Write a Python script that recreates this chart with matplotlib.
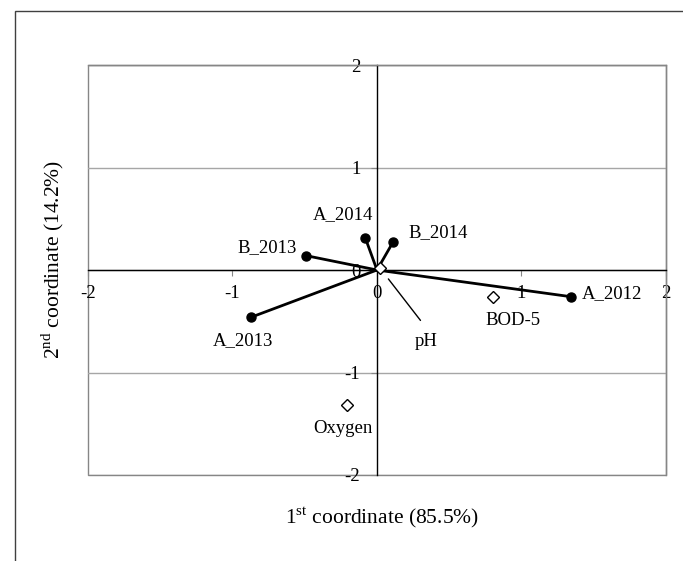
import numpy as np
import matplotlib
matplotlib.use('Agg')
from matplotlib import pyplot as plt
from matplotlib.patches import Rectangle

# active points (years), joined to the origin
act_names = ['A_2012', 'A_2013', 'B_2013', 'A_2014', 'B_2014']
act_x = [1.34, -0.87, -0.49, -0.08, 0.11]
act_y = [-0.26, -0.46, 0.14, 0.31, 0.27]

# supplementary variables (open diamonds)
sup_names = ['BOD-5', 'Oxygen', 'pH']
sup_x = [0.80, -0.21, 0.02]
sup_y = [-0.26, -1.32, 0.02]

ticks = [-2, -1, 0, 1, 2]


def main():
  matplotlib.rc('font', family='Liberation Serif', size=13.5)
  matplotlib.rc('mathtext', fontset='custom', rm='Liberation Serif')

  fig = plt.figure(figsize=(6.83, 5.61), dpi=100)
  ax = fig.add_axes([0.1288, 0.1533, 0.8463, 0.7308])
  ax.set_xlim(-2, 2)
  ax.set_ylim(-2, 2)

  # axes crossing at the origin, Excel style
  ax.spines['left'].set_position(('data', 0))
  ax.spines['bottom'].set_position(('data', 0))
  for s in ['left', 'bottom']:
    ax.spines[s].set_color('black')
    ax.spines[s].set_linewidth(1.0)
  for s in ['top', 'right']:
    ax.spines[s].set_color('#868686')
    ax.spines[s].set_linewidth(1.0)
  ax.add_patch(Rectangle((0, 0), 1, 1, transform=ax.transAxes, fill=False,
                         edgecolor='#868686', lw=1.0, clip_on=False, zorder=0.5))

  ax.set_xticks(ticks)
  ax.set_yticks(ticks)
  ax.set_xticklabels([str(t) for t in ticks])
  ax.set_yticklabels([str(t) for t in ticks])
  ax.tick_params(axis='x', direction='out', length=4, color='#868686', pad=7)
  ax.tick_params(axis='y', direction='out', length=4, color='#868686', pad=8)
  ax.yaxis.grid(True, color='#a6a6a6', lw=1.0)
  ax.set_axisbelow(True)

  # lines from origin to each active point
  for x, y in zip(act_x, act_y):
    ax.plot([0, x], [0, y], color='black', lw=2.0, zorder=3)
  ax.plot(act_x, act_y, 'o', color='black', ms=6.5, zorder=4, clip_on=False)
  ax.plot(sup_x, sup_y, 'D', mfc='white', mec='black', mew=1.0, ms=6.5,
          zorder=5, clip_on=False)

  act_off = {
    'A_2012': ((8, 2), 'left'),
    'A_2013': ((-6, -17), 'center'),
    'B_2013': ((-7, 6), 'right'),
    'A_2014': ((-16, 17), 'center'),
    'B_2014': ((11, 7), 'left'),
  }
  for n, x, y in zip(act_names, act_x, act_y):
    off, ha = act_off[n]
    ax.annotate(n, (x, y), xytext=off, textcoords='offset points',
                ha=ha, va='center')

  sup_off = {
    'BOD-5': (15, -17),
    'Oxygen': (-3, -17),
  }
  for n, x, y in zip(sup_names, sup_x, sup_y):
    if n == 'pH':
      ax.annotate(n, (x, y), xytext=(33, -53), textcoords='offset points',
                  ha='center', va='center',
                  arrowprops=dict(arrowstyle='-', color='black', lw=1.0,
                                  shrinkA=9, shrinkB=10, relpos=(0.7, 1.0)))
    else:
      ax.annotate(n, (x, y), xytext=sup_off[n], textcoords='offset points',
                  ha='center', va='center')

  fig.text(382 / 683, 1 - 518 / 561, r'1$^{\mathrm{st}}$ coordinate (85.5%)',
           ha='center', va='center', fontsize=15.5)
  fig.text(53 / 683, 1 - 259 / 561, r'2$^{\mathrm{nd}}$ coordinate (14.2%)',
           ha='center', va='center', rotation=90, fontsize=15.5)

  # outer chart frame (cut by the image edge on the right and bottom)
  fig.patches.append(Rectangle((14.5 / 683, -0.2), 1.2, 1.2 - 10.5 / 561,
                               transform=fig.transFigure, fill=False,
                               edgecolor='#404040', lw=1.0))

  fig.savefig('out.png', dpi=100)


if __name__ == '__main__':
  main()
